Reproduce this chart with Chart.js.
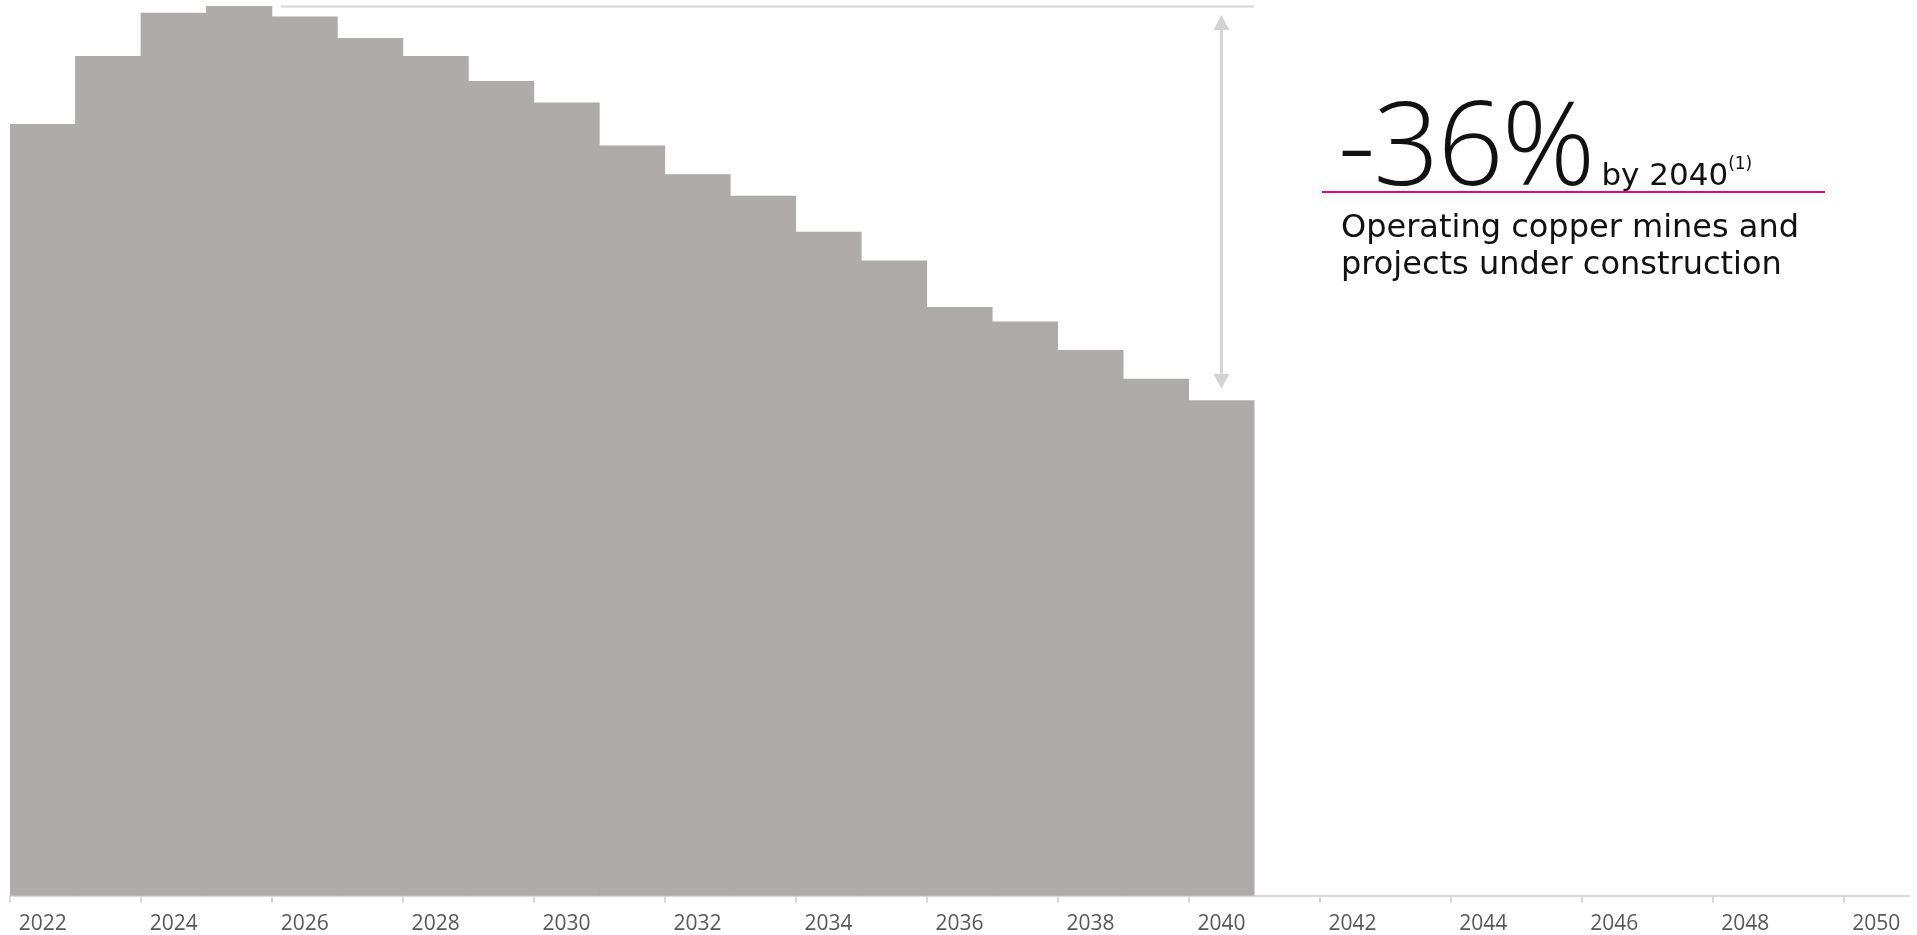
<!DOCTYPE html>
<html>
<head>
<meta charset="utf-8">
<script src="https://cdn.jsdelivr.net/npm/chart.js@4.4.0/dist/chart.umd.min.js"></script>
<style>
  body { margin: 0; background: #fff; }
  #wrap { position: relative; width: 1917px; height: 935px; overflow: hidden; }
  .note { position: absolute; color: #111; white-space: nowrap; }
  #headline { left: 1338px; top: 82px; line-height: 1; font-family: "Open Sans", sans-serif; }
  #headline .big { font-size: 116px; font-weight: 300; letter-spacing: -2px; }
  #headline .small { font-family: "DejaVu Sans", sans-serif; font-size: 31px; font-weight: 400; margin-left: 8px; }
  #headline sup { font-size: 17px; vertical-align: 0; position: relative; top: -16px; }
  #rule { position: absolute; left: 1322px; top: 191px; width: 503px; height: 2px; background: #e6007e; }
  #desc { left: 1341px; top: 208px; font-family: "DejaVu Sans", sans-serif; font-size: 32px; line-height: 37px; }
</style>
</head>
<body>
<div id="wrap">
  <canvas id="supplyChart" width="1917" height="935"></canvas>
  <div class="note" id="headline"><span class="big">-36%</span><span class="small">by 2040<sup>(1)</sup></span></div>
  <div id="rule"></div>
  <div class="note" id="desc">Operating copper mines and<br>projects under construction</div>
</div>
<script>
// Categories (years) and tick labels
var years = ['2022', '2023', '2024', '2025', '2026', '2027', '2028', '2029', '2030', '2031',
             '2032', '2033', '2034', '2035', '2036', '2037', '2038', '2039', '2040', '2041',
             '2042', '2043', '2044', '2045', '2046', '2047', '2048', '2049', '2050'];
var tickYears = ['2022', '2024', '2026', '2028', '2030', '2032', '2034', '2036', '2038', '2040',
                 '2042', '2044', '2046', '2048', '2050'];

// Copper supply from operating mines and projects under construction (Mt)
var supply = [21.5, 23.4, 24.6, 24.8, 24.5, 23.9, 23.4, 22.7, 22.1, 20.9,
              20.1, 19.5, 18.5, 17.7, 16.4, 16.0, 15.2, 14.4, 13.8];

var barColor = '#afabaa';
var guideColor = '#d3d3d3';
var axisColor = '#d9d9d9';

// Peak reference line and the double arrow down to the 2040 value
var guidePlugin = {
    id: 'guides',
    afterDatasetsDraw: function (chart) {
        var ctx = chart.ctx;
        var x = chart.scales.x;
        var y = chart.scales.y;
        var peak = Math.max.apply(null, supply);
        var iPeak = supply.indexOf(peak);
        var iLast = supply.length - 1;
        var step = x.getPixelForValue(1) - x.getPixelForValue(0);
        var yPeak = y.getPixelForValue(peak);
        var yLast = y.getPixelForValue(supply[iLast]);
        var xStart = x.getPixelForValue(iPeak) + step / 2 + 9;
        var xEnd = x.getPixelForValue(iLast) + step / 2;
        var xArrow = x.getPixelForValue(iLast);

        ctx.save();
        ctx.strokeStyle = guideColor;
        ctx.fillStyle = guideColor;
        ctx.lineWidth = 2;
        ctx.beginPath();
        ctx.moveTo(xStart, yPeak + 0.5);
        ctx.lineTo(xEnd, yPeak + 0.5);
        ctx.stroke();

        var top = yPeak + 9;
        var bottom = yLast - 12;
        var head = 15;
        ctx.lineWidth = 3;
        ctx.beginPath();
        ctx.moveTo(xArrow, top + head);
        ctx.lineTo(xArrow, bottom - head);
        ctx.stroke();
        ctx.beginPath();
        ctx.moveTo(xArrow, top);
        ctx.lineTo(xArrow - 8, top + head);
        ctx.lineTo(xArrow + 8, top + head);
        ctx.closePath();
        ctx.fill();
        ctx.beginPath();
        ctx.moveTo(xArrow, bottom);
        ctx.lineTo(xArrow - 8, bottom - head);
        ctx.lineTo(xArrow + 8, bottom - head);
        ctx.closePath();
        ctx.fill();
        ctx.restore();
    }
};

var supplyCtx = document.getElementById('supplyChart').getContext('2d');
var supplyChart = new Chart(supplyCtx, {
    type: 'bar',
    data: {
        labels: years,
        datasets: [{
            label: 'Copper supply',
            data: supply,
            backgroundColor: barColor,
            borderWidth: 0,
            barPercentage: 1.0,
            categoryPercentage: 1.0
        }]
    },
    options: {
        responsive: false,
        animation: false,
        layout: { padding: { top: 6, left: 10, right: 8, bottom: -10 } },
        plugins: {
            legend: { display: false },
            tooltip: { enabled: false }
        },
        scales: {
            x: {
                offset: true,
                grid: {
                    offset: true,
                    drawOnChartArea: false,
                    tickLength: 7,
                    lineWidth: 2,
                    color: function (c) {
                        return tickYears.indexOf(years[c.index]) >= 0 ? axisColor : 'rgba(0,0,0,0)';
                    }
                },
                border: { display: true, color: axisColor, width: 2 },
                ticks: {
                    autoSkip: false,
                    maxRotation: 0,
                    padding: 8.5,
                    color: '#595959',
                    font: { family: 'Open Sans', size: 21 },
                    callback: function (val, i) {
                        return tickYears.indexOf(years[i]) >= 0 ? years[i] : '';
                    }
                }
            },
            y: {
                display: false,
                min: 0,
                max: Math.max.apply(null, supply)
            }
        }
    },
    plugins: [guidePlugin]
});
</script>
</body>
</html>
